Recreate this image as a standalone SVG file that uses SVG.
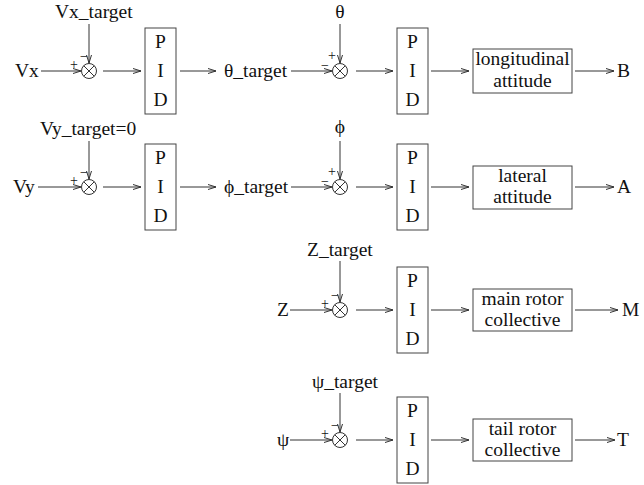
<svg xmlns="http://www.w3.org/2000/svg" width="644" height="485" viewBox="0 0 644 485">
<defs>
<style>
text{font-family:'Liberation Serif','Times New Roman',Times,serif;font-size:19.5px;fill:#111}
.s{font-size:14px}
.m{text-anchor:middle}
.ln{stroke:#333;stroke-width:1;fill:none}
.bx{stroke:#444;stroke-width:1;fill:#fff}
.sum{stroke:#333;stroke-width:1;fill:#fff}
</style>
<marker id="ah" markerWidth="10" markerHeight="8" refX="9" refY="4" orient="auto" markerUnits="userSpaceOnUse">
<path d="M1,1.5 L9,4 L1,6.5" fill="none" stroke="#333" stroke-width="1"/>
</marker>
<g id="sj">
<circle cx="0" cy="0" r="7.5" class="sum"/>
<path d="M-5.3,-5.3 L5.3,5.3 M5.3,-5.3 L-5.3,5.3" class="ln"/>
</g>
</defs>
<rect width="644" height="485" fill="#fff"/>

<g id="connectors">
<path class="ln" marker-end="url(#ah)" d="M41,71 H81"/>
<path class="ln" marker-end="url(#ah)" d="M89,24 V63"/>
<path class="ln" marker-end="url(#ah)" d="M103,71 H141"/>
<path class="ln" marker-end="url(#ah)" d="M180,71 H216"/>
<path class="ln" marker-end="url(#ah)" d="M291,71 H332"/>
<path class="ln" marker-end="url(#ah)" d="M340,24 V63"/>
<path class="ln" marker-end="url(#ah)" d="M356,71 H393"/>
<path class="ln" marker-end="url(#ah)" d="M431,71 H469"/>
<path class="ln" marker-end="url(#ah)" d="M575,71 H614"/>
<path class="ln" marker-end="url(#ah)" d="M38,187 H81"/>
<path class="ln" marker-end="url(#ah)" d="M89,141 V179"/>
<path class="ln" marker-end="url(#ah)" d="M103,187 H141"/>
<path class="ln" marker-end="url(#ah)" d="M180,187 H216"/>
<path class="ln" marker-end="url(#ah)" d="M291,187 H332"/>
<path class="ln" marker-end="url(#ah)" d="M340,141 V179"/>
<path class="ln" marker-end="url(#ah)" d="M356,187 H393"/>
<path class="ln" marker-end="url(#ah)" d="M431,187 H469"/>
<path class="ln" marker-end="url(#ah)" d="M575,187 H614"/>
<path class="ln" marker-end="url(#ah)" d="M290,310 H332"/>
<path class="ln" marker-end="url(#ah)" d="M340,261 V302"/>
<path class="ln" marker-end="url(#ah)" d="M356,310 H393"/>
<path class="ln" marker-end="url(#ah)" d="M431,310 H469"/>
<path class="ln" marker-end="url(#ah)" d="M575,310 H618"/>
<path class="ln" marker-end="url(#ah)" d="M290,440 H332"/>
<path class="ln" marker-end="url(#ah)" d="M340,393 V432"/>
<path class="ln" marker-end="url(#ah)" d="M356,440 H393"/>
<path class="ln" marker-end="url(#ah)" d="M431,440 H469"/>
<path class="ln" marker-end="url(#ah)" d="M575,440 H615"/>
</g>

<g font-family="Liberation Serif, Times New Roman, serif">
<g id="vx"><text x="15" y="77">Vx</text></g>
<g id="vx_target"><text x="55" y="18">Vx_target</text></g>
<g id="sum1"><use href="#sj" x="89" y="71"/><text class="s" x="70" y="69">+</text><text class="s" x="80" y="61">−</text></g>
<g id="pid1"><rect class="bx" x="145" y="28" width="31" height="86"/><text class="m" x="160.5" y="48">P</text><text class="m" x="160.5" y="77">I</text><text class="m" x="160.5" y="106">D</text></g>
<g id="theta_target"><text x="224" y="77">θ_target</text></g>
<g id="theta"><text class="m" x="340" y="18">θ</text></g>
<g id="sum2"><use href="#sj" x="340" y="71"/><text class="s" x="321" y="70">−</text><text class="s" x="328" y="60">+</text></g>
<g id="pid2"><rect class="bx" x="397" y="28" width="31" height="86"/><text class="m" x="412.5" y="48">P</text><text class="m" x="412.5" y="77">I</text><text class="m" x="412.5" y="106">D</text></g>
<g id="longitudinal"><rect class="bx" x="473" y="49" width="99" height="44"/><text class="m" x="522.5" y="65">longitudinal</text><text class="m" x="522.5" y="87">attitude</text></g>
<g id="b"><text x="617" y="77">B</text></g>

<g id="vy"><text x="13" y="193">Vy</text></g>
<g id="vy_target"><text x="40" y="135">Vy_target=0</text></g>
<g id="sum3"><use href="#sj" x="89" y="187"/><text class="s" x="70" y="185">+</text><text class="s" x="80" y="177">−</text></g>
<g id="pid3"><rect class="bx" x="145" y="144" width="31" height="86"/><text class="m" x="160.5" y="164">P</text><text class="m" x="160.5" y="193">I</text><text class="m" x="160.5" y="222">D</text></g>
<g id="phi_target"><text x="224" y="193">ϕ_target</text></g>
<g id="phi"><text class="m" x="340" y="133">ϕ</text></g>
<g id="sum4"><use href="#sj" x="340" y="187"/><text class="s" x="321" y="186">−</text><text class="s" x="328" y="176">+</text></g>
<g id="pid4"><rect class="bx" x="397" y="144" width="31" height="86"/><text class="m" x="412.5" y="164">P</text><text class="m" x="412.5" y="193">I</text><text class="m" x="412.5" y="222">D</text></g>
<g id="lateral"><rect class="bx" x="473" y="166" width="99" height="43"/><text class="m" x="522.5" y="182">lateral</text><text class="m" x="522.5" y="203">attitude</text></g>
<g id="a"><text x="617" y="193">A</text></g>

<g id="z"><text x="277" y="316">Z</text></g>
<g id="z_target"><text x="307" y="256">Z_target</text></g>
<g id="sum5"><use href="#sj" x="340" y="310"/><text class="s" x="321" y="308">+</text><text class="s" x="331" y="300">−</text></g>
<g id="pid5"><rect class="bx" x="397" y="267" width="31" height="86"/><text class="m" x="412.5" y="287">P</text><text class="m" x="412.5" y="316">I</text><text class="m" x="412.5" y="345">D</text></g>
<g id="main_rotor"><rect class="bx" x="473" y="289" width="99" height="42"/><text class="m" x="522.5" y="305">main rotor</text><text class="m" x="522.5" y="326">collective</text></g>
<g id="m"><text x="622" y="316">M</text></g>

<g id="psi"><text x="277" y="446">ψ</text></g>
<g id="psi_target"><text x="312" y="388">ψ_target</text></g>
<g id="sum6"><use href="#sj" x="340" y="440"/><text class="s" x="321" y="438">+</text><text class="s" x="331" y="430">−</text></g>
<g id="pid6"><rect class="bx" x="397" y="397" width="31" height="86"/><text class="m" x="412.5" y="417">P</text><text class="m" x="412.5" y="446">I</text><text class="m" x="412.5" y="475">D</text></g>
<g id="tail_rotor"><rect class="bx" x="473" y="419" width="99" height="42"/><text class="m" x="522.5" y="435">tail rotor</text><text class="m" x="522.5" y="456">collective</text></g>
<g id="t"><text x="617" y="446">T</text></g>
</g>
</svg>
